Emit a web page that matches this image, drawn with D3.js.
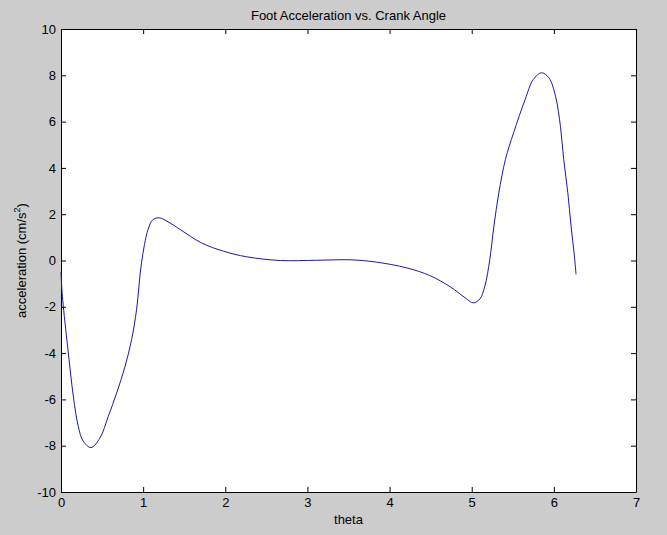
<!DOCTYPE html>
<html lang="en">
<head>
<meta charset="UTF-8">
<title>Foot Acceleration vs. Crank Angle</title>
<script src="https://cdn.jsdelivr.net/npm/d3@7"></script>
<style>
  body { margin: 0; background: #cccccc; }
  svg text { font-family: "Liberation Sans", Arial, Helvetica, sans-serif; font-size: 13px; fill: #000; }
</style>
</head>
<body>
<div id="chart"></div>
<script>
// theta values (rad) and foot acceleration (cm/s^2)
const theta = [0, 0.01, 0.028, 0.089, 0.15, 0.21, 0.27, 0.365, 0.475, 0.576, 0.678, 0.78, 0.86, 0.92, 0.98, 1.06,
  1.12, 1.2, 1.29, 1.45, 1.71, 1.98, 2.26, 2.67, 3.11, 3.52, 3.84, 4.21, 4.49, 4.74, 4.92, 5.02, 5.10, 5.16,
  5.22, 5.27, 5.33, 5.41, 5.51, 5.65, 5.75, 5.85, 5.94, 6.02, 6.08, 6.12, 6.17, 6.21, 6.25, 6.27];
const accel = [-0.5, -1.2, -1.97, -3.99, -5.86, -7.16, -7.8, -8.08, -7.66, -6.73, -5.72, -4.57, -3.41, -2.12, -0.1, 1.34,
  1.77, 1.84, 1.7, 1.34, 0.76, 0.4, 0.16, 0.0, 0.01, 0.03, -0.07, -0.32, -0.65, -1.14, -1.61, -1.83, -1.66, -1.11,
  0.04, 1.48, 2.92, 4.36, 5.52, 6.95, 7.82, 8.11, 7.89, 7.1, 5.8, 4.36, 2.92, 1.48, 0.19, -0.6];
const xTicks = [0, 1, 2, 3, 4, 5, 6, 7];
const yTicks = [-10, -8, -6, -4, -2, 0, 2, 4, 6, 8, 10];

const data = theta.map((t, i) => ({theta: t, accel: accel[i]}));

const W = 667, H = 535;
const margin = {top: 29, right: 31, bottom: 43, left: 61};
const width = W - margin.left - margin.right,
      height = H - margin.top - margin.bottom;

const svg = d3.select("#chart").append("svg")
  .attr("width", W)
  .attr("height", H);

const g = svg.append("g")
  .attr("transform", `translate(${margin.left},${margin.top})`);

const x = d3.scaleLinear().domain([0, 7]).range([0, width]);
const y = d3.scaleLinear().domain([-10, 10]).range([height, 0]);

// plain integer labels with an ascii hyphen, like matlab
const fmt = d => String(d);

// white plot area
g.append("rect")
  .attr("width", width)
  .attr("height", height)
  .attr("fill", "#fff");

// axes, ticks pointing inward on all four sides
const tickLen = 5;
g.append("g")
  .attr("transform", `translate(0,${height})`)
  .call(d3.axisBottom(x).tickValues(xTicks).tickFormat(fmt).tickSizeInner(-tickLen).tickSizeOuter(0).tickPadding(5))
  .call(a => a.selectAll("text").attr("dy", "0.8em"));
g.append("g")
  .call(d3.axisTop(x).tickValues(xTicks).tickSizeInner(-tickLen).tickSizeOuter(0).tickFormat(""));
g.append("g")
  .call(d3.axisLeft(y).tickValues(yTicks).tickFormat(fmt).tickSizeInner(-tickLen).tickSizeOuter(0).tickPadding(5));
g.append("g")
  .attr("transform", `translate(${width},0)`)
  .call(d3.axisRight(y).tickValues(yTicks).tickSizeInner(-tickLen).tickSizeOuter(0).tickFormat(""));

g.selectAll(".domain").attr("stroke", "#000");
g.selectAll(".tick line").attr("stroke", "#000");
g.selectAll(".tick text").style("font-size", "13px");

// curve
g.append("path")
  .datum(data)
  .attr("fill", "none")
  .attr("stroke", "#1a1a9c")
  .attr("stroke-width", 1)
  .attr("d", d3.line()
    .x(d => x(d.theta))
    .y(d => y(d.accel))
    .curve(d3.curveCatmullRom));

// title and labels
svg.append("text")
  .attr("x", margin.left + width / 2)
  .attr("y", 20)
  .attr("text-anchor", "middle")
  .text("Foot Acceleration vs. Crank Angle");

svg.append("text")
  .attr("x", margin.left + width / 2)
  .attr("y", 524)
  .attr("text-anchor", "middle")
  .text("theta");

const yl = svg.append("text")
  .attr("transform", `translate(26,${margin.top + height / 2}) rotate(-90)`)
  .attr("text-anchor", "middle");
yl.append("tspan").text("acceleration (cm/s");
yl.append("tspan").attr("dy", -6).style("font-size", "9px").text("2");
yl.append("tspan").attr("dy", 6).text(")");
</script>
</body>
</html>
